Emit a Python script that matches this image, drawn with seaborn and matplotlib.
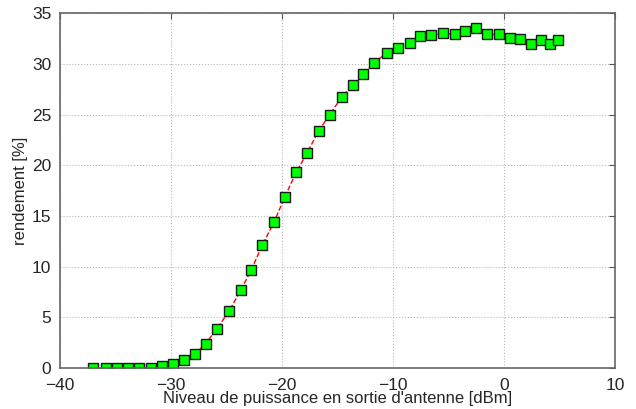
import numpy as np
import pandas as pd
import seaborn as sns
from matplotlib import pyplot as plt

# output power level (dBm) and efficiency (%)
niveau_dbm = [-37.05, -35.84, -34.84, -33.82, -32.83, -31.83, -30.84, -29.82,
              -28.83, -27.83, -26.87, -25.84, -24.76, -23.70, -22.74, -21.78,
              -20.70, -19.73, -18.71, -17.74, -16.68, -15.69, -14.62, -13.63,
              -12.66, -11.66, -10.54, -9.55, -8.50, -7.60, -6.60, -5.48,
              -4.44, -3.47, -2.48, -1.49, -0.46, 0.53, 1.44, 2.43, 3.33,
              4.15, 4.85]
rendement = [0.02, 0.02, 0.02, 0.02, 0.02, 0.05, 0.2, 0.4, 0.75, 1.4, 2.4,
             3.9, 5.6, 7.7, 9.7, 12.1, 14.4, 16.9, 19.3, 21.2, 23.4, 25.0,
             26.7, 27.9, 29.0, 30.1, 31.1, 31.6, 32.1, 32.7, 32.8, 33.0,
             32.9, 33.2, 33.5, 32.9, 32.9, 32.5, 32.4, 32.0, 32.3, 32.0, 32.3]

x_ticks = [-40, -30, -20, -10, 0, 10]
y_ticks = [0, 5, 10, 15, 20, 25, 30, 35]

sns.set_style("white")
plt.rcParams["font.family"] = ["Liberation Sans", "DejaVu Sans"]

df = pd.DataFrame({"niveau": niveau_dbm, "rendement": rendement})

fig = plt.figure(figsize=(6.36, 4.09), dpi=100)
ax = fig.add_axes([0.094, 0.1, 0.873, 0.868])

sns.lineplot(
    data=df, x="niveau", y="rendement", ax=ax,
    color="#ff0000", linestyle="--", linewidth=1.0,
    marker="s", markersize=7, markerfacecolor="#00ff00",
    markeredgecolor="#1a1a1a", markeredgewidth=1.0,
)

ax.set_xlim(-40, 10)
ax.set_ylim(0, 35)
ax.set_xticks(x_ticks)
ax.set_yticks(y_ticks)
ax.grid(True, linestyle=":", color="#b8b8b8", linewidth=0.8)
ax.tick_params(direction="in", length=4, labelsize=12.5, color="#555555",
               top=True, right=True)
ax.tick_params(axis="x", pad=7)
ax.tick_params(axis="y", pad=6)
for s in ax.spines.values():
    s.set_color("#666666")
    s.set_linewidth(1.2)

ax.set_xlabel("Niveau de puissance en sortie d'antenne [dBm]", fontsize=12, labelpad=-1)
ax.set_ylabel("rendement [%]", fontsize=12, labelpad=3)

fig.savefig("out.png", dpi=100)
